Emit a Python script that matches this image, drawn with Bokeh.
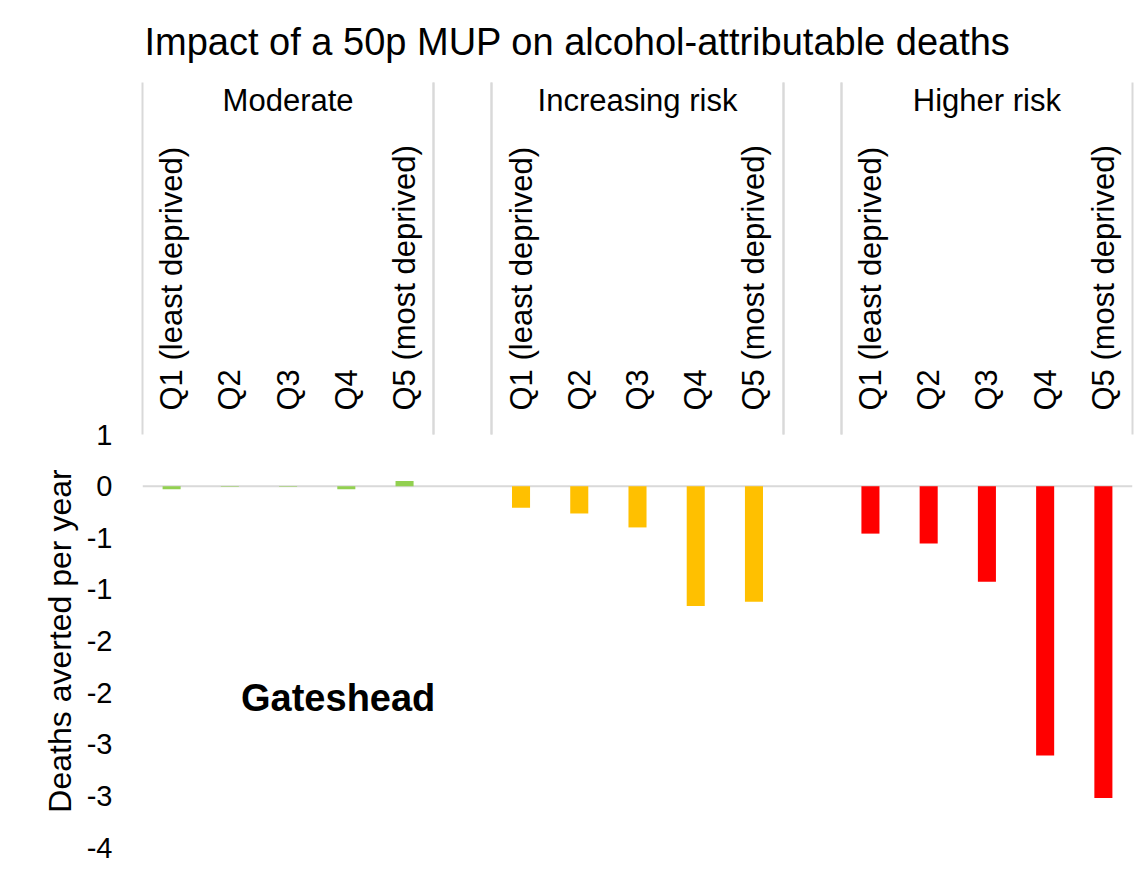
from bokeh.plotting import figure
from bokeh.models import (FactorRange, Range1d, LinearAxis, CategoricalAxis, FixedTicker,
                          Span, Label, ColumnDataSource)
from bokeh.transform import factor_cmap
from bokeh.embed import file_html
from bokeh.resources import INLINE

# ---- data ----
title_text = "Impact of a 50p MUP on alcohol-attributable  deaths"
groups = ["Moderate", "Increasing risk", "Higher risk"]
quintiles = ["Q1 (least deprived)", "Q2", "Q3", "Q4", "Q5 (most deprived)"]
moderate = [-0.03, -0.005, -0.005, -0.03, 0.05]
increasing = [-0.21, -0.265, -0.40, -1.16, -1.12]
higher = [-0.46, -0.555, -0.925, -2.61, -3.02]
colors = ["#92D050", "#FFC000", "#FF0000"]
y_ticks = [0.5, 0.0, -0.5, -1.0, -1.5, -2.0, -2.5, -3.0, -3.5]
y_tick_labels = ["1", "0", "-1", "-1", "-2", "-2", "-3", "-3", "-4"]
y_label = "Deaths averted per year"
area_label = "Gateshead"

FONT = "Liberation Sans"
GRID = "#D9D9D9"
GP = 1.0       # gap between groups, in category widths
SEP_LEN = 352  # px the group separators reach above the plot area

factors = [(g, q) for g in groups for q in quintiles]
vals = moderate + increasing + higher
src = ColumnDataSource(dict(x=factors, v=vals))

n = len(quintiles)
sep_ticks = []
for gi in range(len(groups)):
    s = gi * (n + GP)
    sep_ticks += [s, s + n]

p = figure(
    x_range=FactorRange(*factors, group_padding=GP, factor_padding=0, range_padding=0),
    y_range=Range1d(-3.5, 0.5),
    width=1136, height=871,
    x_axis_location="above",
    toolbar_location=None, output_backend="svg",
    min_border=0, min_border_left=142, min_border_right=4, min_border_bottom=24,
)
p.outline_line_color = None
p.xgrid.visible = False
p.ygrid.visible = False

p.title.text = title_text
p.title.text_font = FONT
p.title.text_font_size = "38px"
p.title.text_font_style = "normal"
p.title.text_color = "#000000"
p.title.align = "left"
p.title.offset = 2
p.title.standoff = 36

zero = Span(location=0, dimension="width", line_color=GRID, line_width=2, level="underlay")
p.add_layout(zero)

p.vbar(x="x", top="v", width=0.31, source=src, line_color=None,
       fill_color=factor_cmap("x", palette=colors, factors=groups, end=1))

# categorical axis (above)
xa = p.xaxis[0]
xa.major_label_orientation = "vertical"
xa.major_label_text_font = FONT
xa.major_label_text_font_size = "31px"
xa.major_label_text_color = "#000000"
xa.major_label_standoff = 24
xa.group_text_font = FONT
xa.group_text_font_size = "31px"
xa.group_text_font_style = "normal"
xa.group_text_color = "#000000"
xa.separator_line_color = None
xa.axis_line_color = None
xa.major_tick_line_color = None
xa.major_tick_out = 0
xa.major_tick_in = 0

# group separators: long ticks (negative "in" length points outward) at the group
# boundaries, on an axis that sits between the plot area and the category labels
sep_lin = LinearAxis(ticker=FixedTicker(ticks=sep_ticks),
                     major_tick_out=0, major_tick_in=-SEP_LEN,
                     major_tick_line_color=GRID, major_tick_line_width=2,
                     axis_line_color=None, minor_tick_line_color=None,
                     major_label_text_color=None, major_label_text_font_size="0px",
                     major_label_standoff=0)

sep_factors = []
for gi in range(len(groups)):
    sep_factors += [("g%d" % gi, "start"), ("g%d" % gi, "end")]
p.extra_x_ranges = {"sep": FactorRange(*sep_factors, factor_padding=n - 1, group_padding=GP - 1,
                                        range_padding=-0.5, range_padding_units="absolute")}
sep_cat = CategoricalAxis(x_range_name="sep",
                          major_tick_out=0, major_tick_in=-SEP_LEN,
                          major_tick_line_color=GRID, major_tick_line_width=2,
                          axis_line_color=None, separator_line_color=None,
                          major_label_text_color=None, major_label_text_font_size="0px",
                          group_text_color=None, group_text_font_size="0px",
                          major_label_standoff=0)

p.above = [sep_lin, sep_cat] + list(p.above)

# y axis
ya = p.yaxis[0]
ya.ticker = FixedTicker(ticks=y_ticks)
ya.major_label_overrides = dict(zip(y_ticks, y_tick_labels))
ya.major_label_text_font = FONT
ya.major_label_text_font_size = "29px"
ya.major_label_text_color = "#000000"
ya.major_label_standoff = 30
ya.major_tick_out = 0
ya.major_tick_in = 0
ya.major_tick_line_color = None
ya.minor_tick_line_color = None
ya.axis_line_color = None
ya.axis_label = y_label
ya.axis_label_text_font = FONT
ya.axis_label_text_font_size = "32px"
ya.axis_label_text_font_style = "normal"
ya.axis_label_text_color = "#000000"
ya.axis_label_standoff = 6

p.add_layout(Label(x=3.36, y=-2.05, text=area_label, text_font=FONT, text_font_size="38px",
                   text_font_style="bold", text_color="#000000",
                   text_align="center", text_baseline="middle"))

open("out.html", "w").write(file_html(p, INLINE))
